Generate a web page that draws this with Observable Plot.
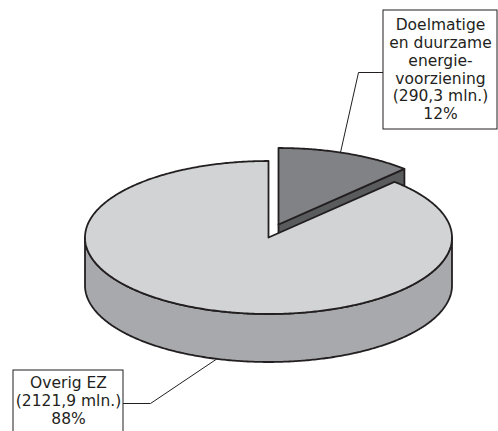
<!DOCTYPE html>
<html>
<head>
<meta charset="utf-8">
<script src="https://cdn.jsdelivr.net/npm/d3@7"></script>
<script src="https://cdn.jsdelivr.net/npm/@observablehq/plot@0.6"></script>
<style>
  html, body { margin: 0; padding: 0; background: #fff; }
  #chart { width: 498px; height: 431px; }
</style>
</head>
<body>
<div id="chart"></div>
<script>
// ---- data ----
const categories = ["Doelmatige en duurzame energievoorziening", "Overig EZ"];
const values = [290.3, 2121.9];          // mln.
const percents = ["12%", "88%"];
const labels = [
  "Doelmatige\nen duurzame\nenergie-\nvoorziening\n(290,3 mln.)\n12%",
  "Overig EZ\n(2121,9 mln.)\n88%"
];

// ---- layout (pixels) ----
const W = 498, H = 431;
const cx = 268, cy = 237, rx = 183.5, ry = 76.5, depth = 48;
const explode = [10, -13];               // offset of the small slice
const colTop = ["#808285", "#d1d3d4"];
const colSide = ["#5a5b5d", "#a8a9ac"];
const ink = "#231f20";

const total = d3.sum(values);
const arcs = [];
let acc = 0;
values.forEach((v, i) => {
  const a0 = acc / total * 2 * Math.PI;
  acc += v;
  const a1 = acc / total * 2 * Math.PI;
  arcs.push({i, a0, a1, ox: i === 0 ? explode[0] : 0, oy: i === 0 ? explode[1] : 0});
});

const P = (a, arc, z = 0) => ({x: cx + arc.ox + rx * Math.sin(a), y: cy + arc.oy - ry * Math.cos(a) + z});
const C = (arc, z = 0) => ({x: cx + arc.ox, y: cy + arc.oy + z});
function arcPts(a0, a1, arc, z = 0) {
  const n = Math.max(2, Math.ceil(Math.abs(a1 - a0) / 0.01));
  return d3.range(n + 1).map(k => P(a0 + (a1 - a0) * k / n, arc, z));
}

const marks = [];
const small = arcs[0], big = arcs[1];

// small slice: radial face at its end angle, then top
const smallFace = [C(small), P(small.a1, small), P(small.a1, small, depth), C(small, depth), C(small)];
marks.push(Plot.line(smallFace, {x: "x", y: "y", fill: colSide[0], stroke: ink, strokeWidth: 1.8}));
const smallTop = [C(small), ...arcPts(small.a0, small.a1, small), C(small)];
marks.push(Plot.line(smallTop, {x: "x", y: "y", fill: colTop[0], stroke: ink, strokeWidth: 1.8}));

// big slice: visible outer side, then top
const s0 = Math.max(big.a0, Math.PI / 2), s1 = Math.min(big.a1, 3 * Math.PI / 2);
const bigSide = [...arcPts(s0, s1, big), ...arcPts(s1, s0, big, depth)];
bigSide.push(bigSide[0]);
marks.push(Plot.line(bigSide, {x: "x", y: "y", fill: colSide[1], stroke: ink, strokeWidth: 1.8}));
const bigTop = [C(big), ...arcPts(big.a0, big.a1, big), C(big)];
marks.push(Plot.line(bigTop, {x: "x", y: "y", fill: colTop[1], stroke: ink, strokeWidth: 1.8}));

// callouts
const boxes = [
  {x1: 383, x2: 497, y1: 10, y2: 129, tx: 440, ty: 17},
  {x1: 13, x2: 123, y1: 370, y2: 440, tx: 68, ty: 375}
];
const leaders = [
  [{x: 383, y: 72}, {x: 358, y: 72}, {x: 340, y: 152}],
  [{x: 123, y: 403}, {x: 150, y: 403}, {x: 217, y: 358}]
];
leaders.forEach(l => marks.push(Plot.line(l, {x: "x", y: "y", stroke: ink, strokeWidth: 1})));
marks.push(Plot.rect(boxes, {x1: "x1", x2: "x2", y1: "y1", y2: "y2", fill: "white", stroke: ink, strokeWidth: 1}));
marks.push(Plot.text(boxes.map((b, i) => ({...b, label: labels[i]})), {
  x: "tx", y: "ty", text: "label", textAnchor: "middle", lineAnchor: "top",
  fontSize: 15.5, lineHeight: 1.15, fill: "#231f20", fontFamily: "DejaVu Sans"
}));

const chart = Plot.plot({
  width: W, height: H, margin: 0,
  x: {domain: [0, W], range: [0, W], axis: null},
  y: {domain: [0, H], range: [0, H], axis: null},
  style: {fontFamily: "DejaVu Sans", background: "white", overflow: "hidden"},
  marks
});
document.getElementById("chart").appendChild(chart);
</script>
</body>
</html>
